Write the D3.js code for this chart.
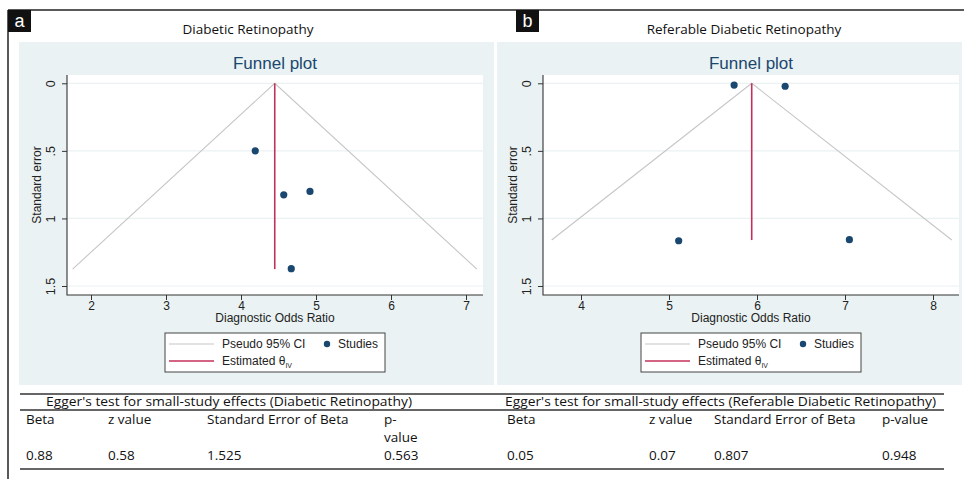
<!DOCTYPE html>
<html>
<head>
<meta charset="utf-8">
<script src="https://cdn.jsdelivr.net/npm/d3@7"></script>
<style>
  body { margin: 0; background: #fff; }
  svg text { font-family: "Liberation Sans", Arial, sans-serif; }
  .tbl { font-family: "Open Sans", "Noto Sans", sans-serif; fill: #111; }
</style>
</head>
<body>
<svg id="chart" width="964" height="479"></svg>
<script>
// ---- data ----
const panelLetters = ["a", "b"];
const panelTitles = ["Diabetic Retinopathy", "Referable Diabetic Retinopathy"];

// panel a : diabetic retinopathy
const thetaA = 4.45;          // estimated theta (IV)
const seMaxA = 1.375;         // largest standard error, bottom of funnel
const studyDorA = [4.19, 4.57, 4.92, 4.67];
const studySeA = [0.50, 0.825, 0.80, 1.372];
const xTicksA = [2, 3, 4, 5, 6, 7];

// panel b : referable diabetic retinopathy
const thetaB = 5.94;
const seMaxB = 1.16;
const studyDorB = [5.74, 6.32, 5.11, 7.05];
const studySeB = [0.013, 0.022, 1.165, 1.157];
const xTicksB = [4, 5, 6, 7, 8];

const yTicks = [0, 0.5, 1, 1.5];
const yTickLabels = ["0", ".5", "1", "1.5"];
const legendLabels = ["Pseudo 95% CI", "Studies", "Estimated θ"];

// Egger's test tables
const eggerTitles = ["Egger's test for small-study effects (Diabetic Retinopathy)",
                     "Egger's test for small-study effects (Referable Diabetic Retinopathy)"];
const eggerHeadA = ["Beta", "z value", "Standard Error of Beta", ["p-", "value"]];
const eggerHeadB = ["Beta", "z value", "Standard Error of Beta", ["p-value"]];
const eggerValA = ["0.88", "0.58", "1.525", "0.563"];
const eggerValB = ["0.05", "0.07", "0.807", "0.948"];

const svg = d3.select("#chart");
const bg = "#eaf2f3";
const navy = "#1a476f";
const red = "#c4305a";

// frame
svg.append("line").attr("x1", 8).attr("x2", 964).attr("y1", 10).attr("y2", 10)
  .attr("stroke", "#222").attr("stroke-width", 1.5);
svg.append("line").attr("x1", 8).attr("x2", 8).attr("y1", 10).attr("y2", 479)
  .attr("stroke", "#222").attr("stroke-width", 1.5);

function drawPanel(p) {
  let g = svg.append("g");

  // graph region
  g.append("rect").attr("x", p.bgX0).attr("y", 42).attr("width", p.bgX1 - p.bgX0).attr("height", 343)
    .attr("fill", bg);

  // letter box
  g.append("rect").attr("x", p.letterX).attr("y", 10).attr("width", 23).attr("height", 22).attr("fill", "#111");
  g.append("text").attr("x", p.letterX + 11.5).attr("y", 27).attr("text-anchor", "middle")
    .attr("fill", "#fff").style("font-size", "18px").text(p.letter);

  // panel caption
  g.append("text").attr("class", "tbl").attr("x", p.captionX).attr("y", 34).attr("text-anchor", "middle")
    .style("font-size", "13.5px").text(p.title);

  let x = d3.scaleLinear().domain([p.xTicks[0], p.xTicks[p.xTicks.length - 1]]).range(p.xRange);
  let y = d3.scaleLinear().domain([0, 1.5]).range([83.3, 286]);
  let top = 75, bottom = 295;
  let cx = (p.plotX0 + p.plotX1) / 2;

  // plot region
  g.append("rect").attr("x", p.plotX0).attr("y", top).attr("width", p.plotX1 - p.plotX0)
    .attr("height", bottom - top).attr("fill", "#fff");

  // grid
  g.append("g").selectAll("line").data(yTicks).enter().append("line")
    .attr("x1", p.plotX0).attr("x2", p.plotX1)
    .attr("y1", d => y(d)).attr("y2", d => y(d))
    .attr("stroke", bg).attr("stroke-width", 1.2);

  // title
  g.append("text").attr("x", cx).attr("y", 69).attr("text-anchor", "middle")
    .attr("fill", navy).style("font-size", "17px").text("Funnel plot");

  // pseudo 95% CI funnel
  let funnel = [[p.theta - 1.96 * p.seMax, p.seMax], [p.theta, 0], [p.theta + 1.96 * p.seMax, p.seMax]];
  let line = d3.line().x(d => x(d[0])).y(d => y(d[1]));
  g.append("path").attr("d", line(funnel)).attr("fill", "none")
    .attr("stroke", "#c6c6c6").attr("stroke-width", 1.1);

  // estimated theta
  g.append("path").attr("d", line([[p.theta, 0], [p.theta, p.seMax]]))
    .attr("stroke", red).attr("stroke-width", 1.6);

  // studies
  g.append("g").selectAll("circle").data(p.dor).enter().append("circle")
    .attr("cx", d => x(d)).attr("cy", (d, i) => y(p.se[i])).attr("r", 3.6)
    .attr("fill", navy);

  // axes
  let xAxis = g.append("g").attr("transform", "translate(0," + bottom + ")")
    .call(d3.axisBottom(x).tickValues(p.xTicks).tickSize(5).tickPadding(1).tickFormat(d3.format("d")));
  xAxis.select(".domain").remove();
  xAxis.selectAll("text").style("font-size", "12px").attr("fill", "#222").attr("font-family", "Liberation Sans, Arial");
  xAxis.selectAll("line").attr("stroke", "#333");

  let yAxis = g.append("g").attr("transform", "translate(" + p.plotX0 + ",0)")
    .call(d3.axisLeft(y).tickValues(yTicks).tickSize(5).tickFormat((d, i) => yTickLabels[i]));
  yAxis.select(".domain").remove();
  yAxis.selectAll("line").attr("stroke", "#333");
  yAxis.selectAll("text")
    .attr("transform", "rotate(-90)").attr("x", 0).attr("y", -12.5).attr("dy", 0)
    .attr("text-anchor", "middle").style("font-size", "12.5px").attr("fill", "#222")
    .attr("font-family", "Liberation Sans, Arial");

  g.append("path")
    .attr("d", "M" + p.plotX0 + "," + top + "V" + bottom + "H" + p.plotX1)
    .attr("fill", "none").attr("stroke", "#333").attr("stroke-width", 1.1);

  // axis titles
  g.append("text").attr("transform", "translate(" + (p.plotX0 - 26) + "," + ((top + bottom) / 2) + ") rotate(-90)")
    .attr("x", 0).attr("text-anchor", "middle").style("font-size", "12px").attr("fill", "#222")
    .text("Standard error");
  g.append("text").attr("x", cx).attr("y", 322).attr("text-anchor", "middle")
    .style("font-size", "12px").attr("fill", "#222").text("Diagnostic Odds Ratio");

  // legend
  let lg = g.append("g").attr("transform", "translate(" + cx + ",0)");
  lg.append("rect").attr("x", -110).attr("y", 333).attr("width", 220).attr("height", 39)
    .attr("fill", "#fff").attr("stroke", "#444").attr("stroke-width", 1);
  lg.append("line").attr("x1", -106).attr("x2", -61).attr("y1", 344).attr("y2", 344)
    .attr("stroke", "#c6c6c6").attr("stroke-width", 1.1);
  lg.append("line").attr("x1", -106).attr("x2", -61).attr("y1", 361).attr("y2", 361)
    .attr("stroke", red).attr("stroke-width", 1.6);
  lg.append("text").attr("x", -53).attr("y", 348).style("font-size", "12px").attr("fill", "#222")
    .text(legendLabels[0]);
  lg.append("circle").attr("cx", 52).attr("cy", 344).attr("r", 3.2).attr("fill", navy);
  lg.append("text").attr("x", 63).attr("y", 348).style("font-size", "12px").attr("fill", "#222")
    .text(legendLabels[1]);
  let est = lg.append("text").attr("x", -53).attr("y", 365).style("font-size", "12px").attr("fill", "#222");
  est.append("tspan").text(legendLabels[2]);
  est.append("tspan").attr("dy", 2.5).style("font-size", "7px").text("IV");
}

drawPanel({
  letter: panelLetters[0], title: panelTitles[0], letterX: 8, captionX: 248,
  bgX0: 19, bgX1: 494, plotX0: 67, plotX1: 483, xRange: [91, 466],
  theta: thetaA, seMax: seMaxA, dor: studyDorA, se: studySeA, xTicks: xTicksA
});
drawPanel({
  letter: panelLetters[1], title: panelTitles[1], letterX: 516, captionX: 744,
  bgX0: 497, bgX1: 962, plotX0: 543, plotX1: 959, xRange: [581, 933],
  theta: thetaB, seMax: seMaxB, dor: studyDorB, se: studySeB, xTicks: xTicksB
});

// ---- Egger's test tables ----
let tb = svg.append("g");
[394, 410, 469].forEach(yy => {
  tb.append("line").attr("x1", 20).attr("x2", 944).attr("y1", yy).attr("y2", yy)
    .attr("stroke", "#333").attr("stroke-width", 1.4);
});

function drawTable(title, titleX, titleW, colX, heads, vals) {
  tb.append("text").attr("class", "tbl").attr("x", titleX).attr("y", 406)
    .attr("textLength", titleW).attr("lengthAdjust", "spacingAndGlyphs")
    .style("font-size", "13px").text(title);
  heads.forEach((h, i) => {
    let lines = Array.isArray(h) ? h : [h];
    lines.forEach((t, j) => {
      tb.append("text").attr("class", "tbl").attr("x", colX[i]).attr("y", 424 + j * 18)
        .style("font-size", "13.5px").text(t);
    });
  });
  vals.forEach((v, i) => {
    tb.append("text").attr("class", "tbl").attr("x", colX[i]).attr("y", 460)
      .style("font-size", "13.5px").text(v);
  });
}

drawTable(eggerTitles[0], 46, 366, [26, 108, 207, 384], eggerHeadA, eggerValA);
drawTable(eggerTitles[1], 505, 431, [507, 649, 714, 882], eggerHeadB, eggerValB);
</script>
</body>
</html>
